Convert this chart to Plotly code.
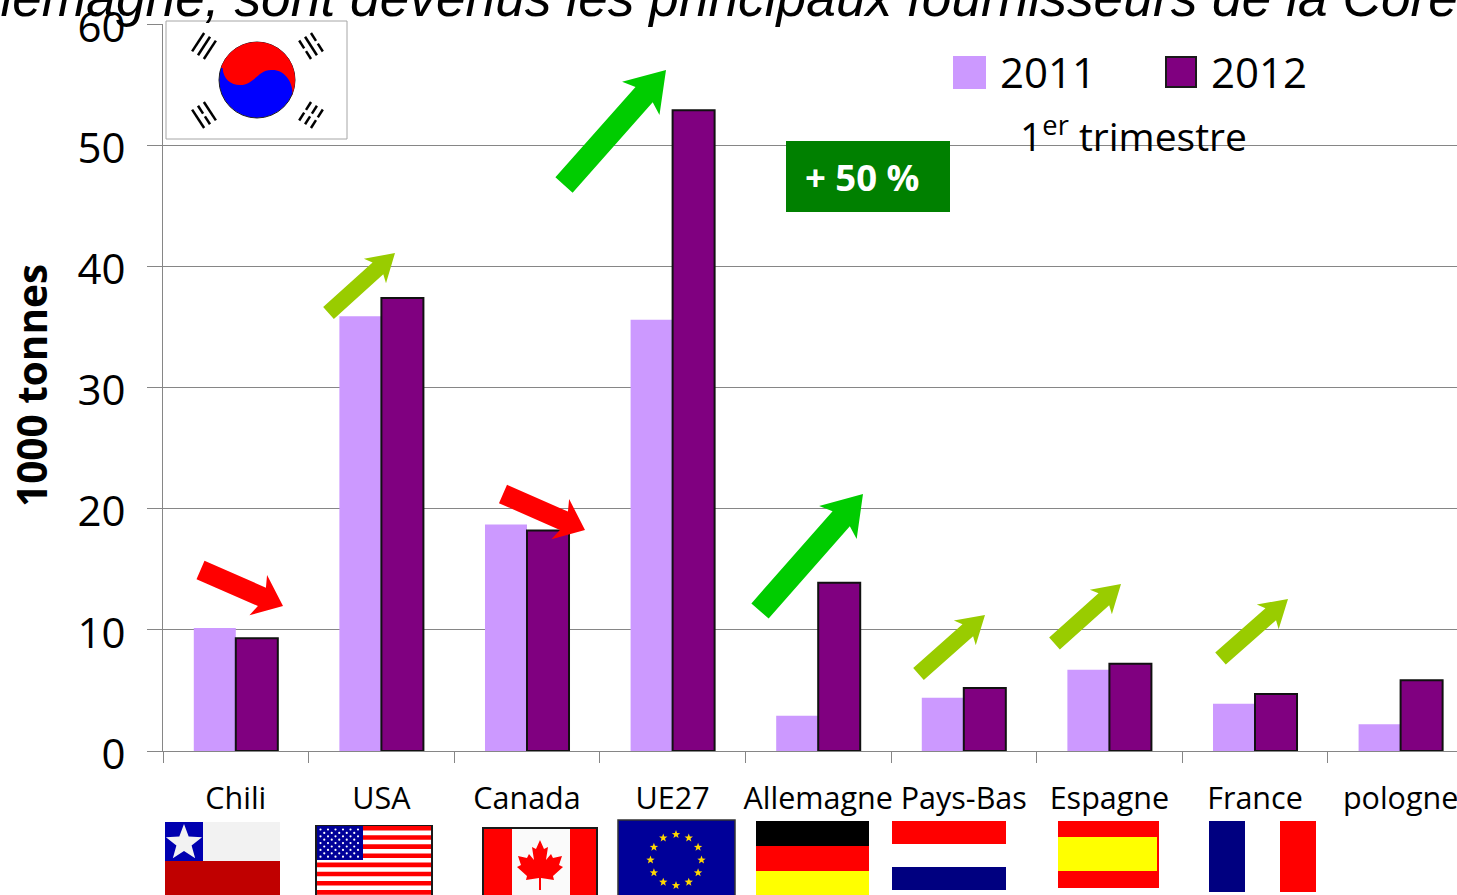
import math
import plotly.graph_objects as go

W, H = 1457, 895
L, T, B = 163, 24, 751

categories = ["Chili", "USA", "Canada", "UE27", "Allemagne", "Pays-Bas", "Espagne", "France", "pologne"]
values_2011 = [10.15, 35.9, 18.7, 35.6, 2.9, 4.4, 6.7, 3.9, 2.2]
values_2012 = [9.3, 37.4, 18.2, 52.9, 13.9, 5.2, 7.2, 4.7, 5.85]
y_ticks = [0, 10, 20, 30, 40, 50, 60]
title_text = "Allemagne, sont devenus les principaux fournisseurs de la Corée"

LIGHT, PURPLE, GRID = "#CC99FF", "#800080", "#868686"
RED, LIME, GREEN = "#FF0000", "#99CC00", "#00CC00"
SANS = "Open Sans"


def px(x):
    return (x - L) / (W - L)


def py(y):
    return (B - y) / (B - T)


shapes, notes = [], []


def poly(points, fill, line=None, lw=0):
    d = "M" + " L".join(f"{px(x):.5f},{py(y):.5f}" for x, y in points) + " Z"
    shapes.append(dict(type="path", xref="paper", yref="paper", path=d, fillcolor=fill,
                       line=dict(color=line or fill, width=lw)))


def rect(x0, y0, x1, y1, fill, line=None, lw=0):
    shapes.append(dict(type="rect", xref="paper", yref="paper", x0=px(x0), x1=px(x1), y0=py(y1), y1=py(y0),
                       fillcolor=fill, line=dict(color=line or fill, width=lw)))


def seg(x0, y0, x1, y1, color, lw):
    shapes.append(dict(type="line", xref="paper", yref="paper", x0=px(x0), x1=px(x1), y0=py(y0), y1=py(y1),
                       line=dict(color=color, width=lw)))


def star(cx, cy, r, fill):
    pts = []
    for i in range(10):
        a = -math.pi / 2 + i * math.pi / 5
        rr = r if i % 2 == 0 else r * 0.42
        pts.append((cx + rr * math.cos(a), cy + rr * math.sin(a)))
    poly(pts, fill)


def arrow(tail, tip, shaft, head_w, head_l, notch, color):
    dx, dy = tip[0] - tail[0], tip[1] - tail[1]
    n = math.hypot(dx, dy)
    ux, uy = dx / n, dy / n
    vx, vy = -uy, ux
    b = (tip[0] - ux * head_l, tip[1] - uy * head_l)
    s = (tip[0] - ux * (head_l - notch), tip[1] - uy * (head_l - notch))
    poly([
        (tail[0] + vx * shaft / 2, tail[1] + vy * shaft / 2),
        (s[0] + vx * shaft / 2, s[1] + vy * shaft / 2),
        (b[0] + vx * head_w / 2, b[1] + vy * head_w / 2),
        tip,
        (b[0] - vx * head_w / 2, b[1] - vy * head_w / 2),
        (s[0] - vx * shaft / 2, s[1] - vy * shaft / 2),
        (tail[0] - vx * shaft / 2, tail[1] - vy * shaft / 2),
    ], color)


def note(x, y, text, size, color="black", xanchor="left", yanchor="middle", angle=0, family=SANS):
    notes.append(dict(xref="paper", yref="paper", x=px(x), y=py(y), text=text, showarrow=False,
                      xanchor=xanchor, yanchor=yanchor, textangle=angle,
                      font=dict(family=family, size=size, color=color)))


# arrows
arrow((200.5, 570), (283, 606), 20, 44, 27, 4, RED)
arrow((503, 494), (585, 530), 20, 44, 27, 4, RED)
arrow((328.5, 313), (395, 253), 16, 33, 27, 4, LIME)
arrow((918.5, 674), (985, 615), 16, 33, 27, 4, LIME)
arrow((1054.5, 643.5), (1121, 584), 16, 33, 27, 4, LIME)
arrow((1220.5, 658.5), (1288, 599), 16, 33, 27, 4, LIME)
arrow((564, 185), (666, 70), 23, 50, 38, 5, GREEN)
arrow((760, 611), (863, 494), 23, 50, 38, 5, GREEN)

# +50 % box
rect(786, 141, 950, 212, "#008000")
note(862, 177, "<b>+ 50 %</b>", 36.5, "white", "center")

# legend
rect(953, 56, 986, 89, LIGHT)
rect(1166, 57, 1196, 87, PURPLE, "#1a1a1a", 2)
note(998, 71, "2011", 42)
note(1209, 71, "2012", 42)
note(1018, 134, "1<sup>er</sup> trimestre", 39)

# korean flag
rect(166, 21, 347, 139, "white", "#A6A6A6", 1)
cx, cy, r = 257, 80, 38
shapes.append(dict(type="circle", xref="paper", yref="paper", x0=px(cx - r), x1=px(cx + r),
                   y0=py(cy + r), y1=py(cy - r), fillcolor="#0000FF", line=dict(color="#202020", width=1)))
a0 = math.atan2(68 - cy, 222.7 - cx)
a1 = math.atan2(95 - cy, 292.7 - cx)
arc = [(cx + r * math.cos(a0 + (a1 - a0) * i / 40), cy + r * math.sin(a0 + (a1 - a0) * i / 40)) for i in range(41)]
curve = [(292.7, 95), (293, 80), (283, 69), (271, 70), (258, 70), (254, 85), (240, 85), (231, 85), (223, 79), (222.7, 68)]
path = "M" + " L".join(f"{px(x):.5f},{py(y):.5f}" for x, y in arc)
path += " L" + f"{px(curve[0][0]):.5f},{py(curve[0][1]):.5f}"
for i in range(1, 10, 3):
    path += " C" + " ".join(f"{px(x):.5f},{py(y):.5f}" for x, y in curve[i:i + 3])
shapes.append(dict(type="path", xref="paper", yref="paper", path=path + " Z", fillcolor=RED, line=dict(width=0)))


def trigram(tx, ty, pattern):
    ox, oy = tx - 257, ty - 80.5
    n = math.hypot(ox, oy)
    rx, ry = ox / n, oy / n
    ax, ay = -ry, rx
    for k, solid in enumerate(pattern):
        mx, my = tx + rx * (k - 1) * 7, ty + ry * (k - 1) * 7
        if solid:
            seg(mx - ax * 11, my - ay * 11, mx + ax * 11, my + ay * 11, "black", 2.5)
        else:
            seg(mx - ax * 11, my - ay * 11, mx - ax * 1.7, my - ay * 1.7, "black", 2.5)
            seg(mx + ax * 1.7, my + ay * 1.7, mx + ax * 11, my + ay * 11, "black", 2.5)


trigram(204, 46, [1, 1, 1])
trigram(311, 46, [0, 1, 0])
trigram(204, 115, [1, 0, 1])
trigram(311, 115, [0, 0, 0])

# chile
rect(203, 822, 280, 861, "#F2F2F2")
rect(165, 822, 203, 861, "#0000B0")
rect(165, 861, 280, 895, "#C00000")
star(184, 843, 19, "#F2F2F2")

# usa
rect(316, 826, 432, 896, "white", "#1a1a1a", 2)
for i in range(8):
    rect(317, 826 + i * 9.15, 431, 826 + i * 9.15 + 4.6, RED)
rect(317, 826, 363, 860, "#000099")
for row in range(9):
    for col in range(6 if row % 2 == 0 else 5):
        sx = 320.5 + col * 7.5 + (0 if row % 2 == 0 else 3.75)
        sy = 829.5 + row * 3.4
        shapes.append(dict(type="circle", xref="paper", yref="paper", x0=px(sx - 1.1), x1=px(sx + 1.1),
                           y0=py(sy + 1.1), y1=py(sy - 1.1), fillcolor="white", line=dict(width=0)))

# canada
rect(483, 828, 597, 896, RED, "#1a1a1a", 2)
rect(512, 829, 570, 896, "#FAFAFA")
leaf = [(0, 0), (4, 9), (8, 7), (6, 20), (11, 14), (13, 18), (22, 16), (19, 25), (23, 27), (13, 36), (14, 40), (1, 38), (1, 50)]
poly([(540 + a, 840 + b) for a, b in leaf] + [(540 - a, 840 + b) for a, b in reversed(leaf[1:])], RED)

# eu
rect(618, 820, 735, 896, "#000099", "#333333", 1.5)
for i in range(12):
    a = i * math.pi / 6
    star(676 + 25.5 * math.cos(a), 860 + 25.5 * math.sin(a), 4.4, "#FFD700")

# germany
rect(756, 821, 869, 846, "black")
rect(756, 846, 869, 871, RED)
rect(756, 871, 869, 895, "#FFFF00")

# netherlands
rect(892, 821, 1006, 844, RED)
rect(892, 867, 1006, 890, "#000080")

# spain
rect(1058, 821, 1159, 888, RED)
rect(1058, 837, 1157, 871, "#FFFF00")

# france
rect(1209, 821, 1245, 892, "#000080")
rect(1280, 821, 1316, 892, RED)

# text
note(32, 386, "<b>1000 tonnes</b>", 40.5, "black", "center", "middle", -90)
note(-52, 29, "<i>" + title_text + "</i>", 53.3, "black", "left", "bottom", 0, "Liberation Sans")

fig = go.Figure()
fig.add_bar(name="2011", x=categories, y=values_2011, marker=dict(color=LIGHT, line=dict(width=0)))
fig.add_bar(name="2012", x=categories, y=values_2012, marker=dict(color=PURPLE, line=dict(color="#111111", width=2)))

fig.update_layout(
    width=W, height=H, margin=dict(l=L, r=0, t=T, b=H - B, pad=0, autoexpand=False),
    paper_bgcolor="white", plot_bgcolor="white",
    barmode="group", bargap=0.423, bargroupgap=0, showlegend=False,
    shapes=shapes, annotations=notes,
    font=dict(family=SANS, color="black"),
    xaxis=dict(type="category", categoryorder="array", categoryarray=categories,
               range=[-0.5, -0.5 + (W - L) / 145.6], tickson="boundaries", ticks="outside", ticklen=11,
               tickcolor=GRID, tickwidth=1, showline=True, linecolor=GRID, linewidth=1, showgrid=False,
               tickangle=0, tickfont=dict(size=30.5), ticklabelstandoff=20, ticklabeloverflow="allow"),
    yaxis=dict(range=[0, 60.02], tickvals=y_ticks, ticks="outside", ticklen=15, tickcolor=GRID, tickwidth=1,
               showline=True, linecolor=GRID, linewidth=1, showgrid=True, gridcolor=GRID, gridwidth=1,
               zeroline=False, tickfont=dict(size=42), ticklabelstandoff=13, ticklabelshift=3,
               ticklabeloverflow="allow"),
)

fig.write_html("out.html", config={"displayModeBar": False},
               post_script="document.body.style.margin='0';document.body.style.overflow='hidden';")
